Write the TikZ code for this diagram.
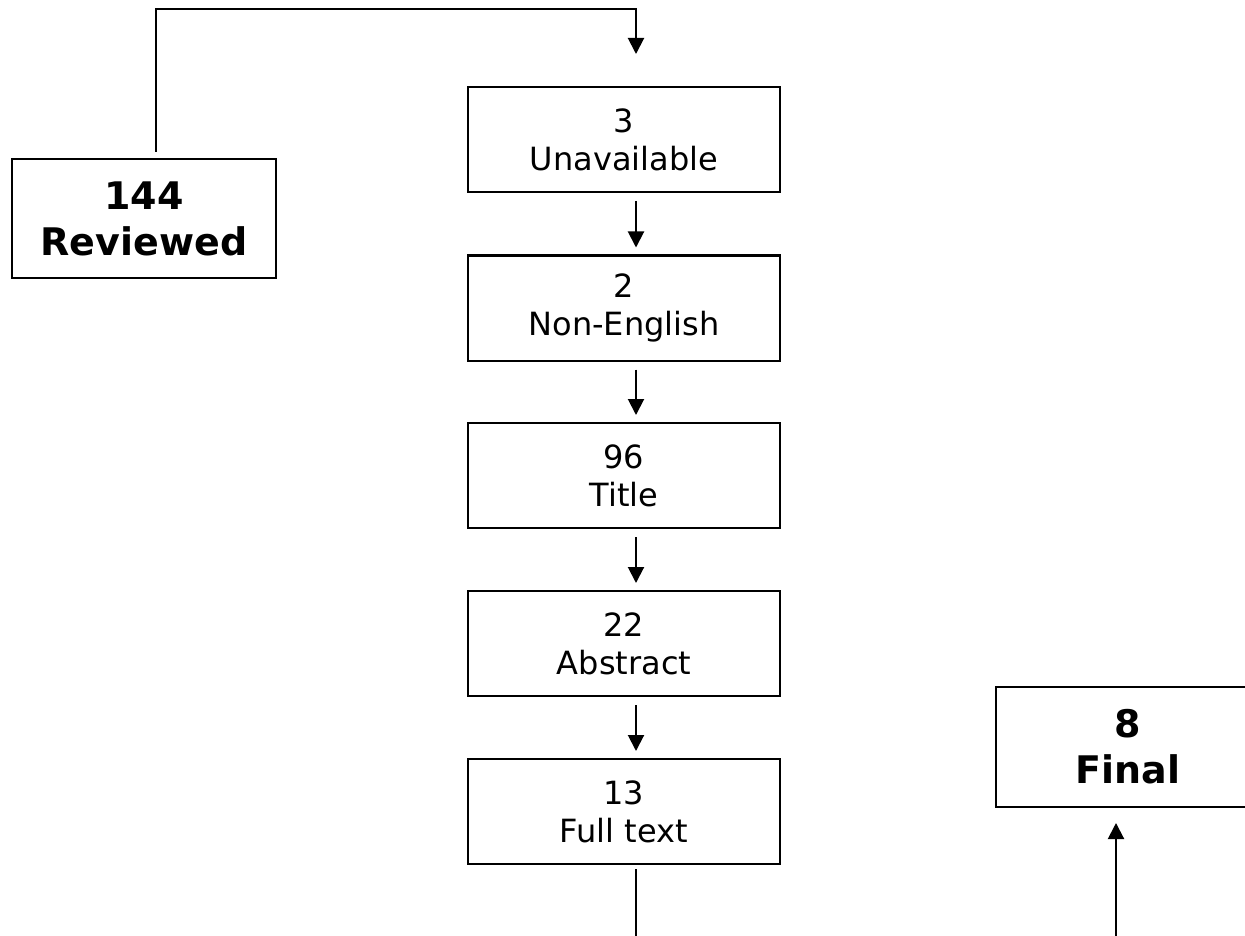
\documentclass[tikz,border=0pt]{standalone}
\usepackage{fontspec}
\setmainfont{DejaVu Sans}
\usetikzlibrary{arrows.meta}
\tikzset{
  stagebox/.style={draw, line width=2pt, rectangle, minimum width=312pt, minimum height=105pt, inner sep=0pt, align=center, font=\fontsize{32}{38}\selectfont},
  endbox/.style={draw, line width=2pt, rectangle, minimum width=264pt, minimum height=119pt, inner sep=0pt, align=center, font=\fontsize{38}{46}\selectfont\bfseries},
  conn/.style={line width=2pt},
  arr/.style={line width=2pt, -{Triangle[width=16pt,length=16pt]}}
}
\begin{document}
\begin{tikzpicture}[x=1pt,y=-1pt]
\useasboundingbox (0,0) rectangle (1245,936);
\clip (0,0) rectangle (1245,936);
\node[endbox] (rev) at (144,218.5) {144\\Reviewed};
\node[stagebox] (b1) at (624,139.5) {3\\Unavailable};
\node[stagebox] (b2) at (624,308) {2\\Non-English};
\node[stagebox] (b3) at (624,475.5) {96\\Title};
\node[stagebox] (b4) at (624,643.5) {22\\Abstract};
\node[stagebox] (b5) at (624,811.5) {13\\Full text};
\node[endbox, minimum height=120pt] (fin) at (1128,747) {8\\Final};
\coordinate (tl) at (156,9);
\coordinate (tr) at (636,9);
\coordinate (bot5) at (636,936);
\coordinate (botf) at (1116,936);
\draw[arr] ([xshift=12pt,yshift=6pt]rev.north) -- (tl) -- (tr) -- ([xshift=12pt,yshift=32pt]b1.north);
\draw[arr] ([xshift=12pt,yshift=-8pt]b1.south) -- ([xshift=12pt,yshift=7pt]b2.north);
\draw[arr] ([xshift=12pt,yshift=-8pt]b2.south) -- ([xshift=12pt,yshift=7pt]b3.north);
\draw[arr] ([xshift=12pt,yshift=-8pt]b3.south) -- ([xshift=12pt,yshift=7pt]b4.north);
\draw[arr] ([xshift=12pt,yshift=-8pt]b4.south) -- ([xshift=12pt,yshift=7pt]b5.north);
\draw[conn] ([xshift=12pt,yshift=-4pt]b5.south) -- (bot5);
\draw[arr] (botf) -- ([xshift=-12pt,yshift=-15pt]fin.south);
\end{tikzpicture}
\end{document}
